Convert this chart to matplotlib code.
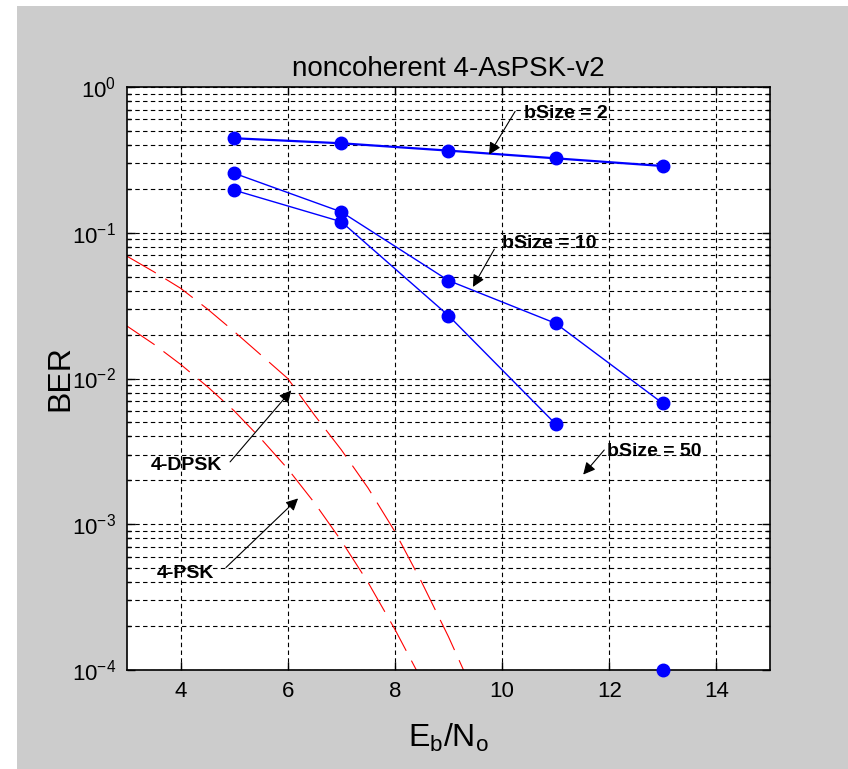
import numpy as np
import matplotlib
matplotlib.use('Agg')
import matplotlib.pyplot as plt
from matplotlib.patches import Rectangle
from matplotlib.ticker import LogLocator, NullFormatter, FuncFormatter

plt.rcParams['font.family'] = ['Liberation Sans', 'DejaVu Sans']
plt.rcParams['mathtext.fontset'] = 'custom'
plt.rcParams['mathtext.rm'] = 'Liberation Sans'

# simulated points
ebno = [5, 7, 9, 11, 13]
ber_b2 = [0.445, 0.411, 0.366, 0.324, 0.287]
ber_b10 = [0.256, 0.139, 0.047, 0.0239, 0.00675]
ebno_b50 = [5, 7, 9, 11]
ber_b50 = [0.196, 0.119, 0.027, 0.00487]
ebno_b50_last = [13]
ber_b50_last = [1e-4]

# theory curves
ebno_psk = [3, 3.5, 4, 4.5, 5, 5.5, 6, 6.5, 7, 7.5, 8, 8.4, 8.6]
ber_psk = [0.0229, 0.0172, 0.0125, 0.0088, 0.0060, 0.00386, 0.0024, 0.0014,
           0.00077, 0.000398, 0.00019, 0.0001, 7.0e-5]
ebno_dpsk = [3, 3.5, 4, 4.5, 5, 5.5, 6, 6.5, 7, 7.5, 8, 8.5, 9, 9.28, 9.45]
ber_dpsk = [0.069, 0.054, 0.0416, 0.030, 0.021, 0.0145, 0.0100, 0.0056,
            0.00324, 0.00177, 0.00089, 0.00040, 0.000169, 0.0001, 7.0e-5]

fig = plt.figure(figsize=(8.48, 7.69), dpi=100, facecolor='white')
fig.patches.append(Rectangle((17 / 848, 0), 1, 1 - 6 / 769, transform=fig.transFigure,
                             facecolor='#cccccc', edgecolor='none', zorder=-10))
ax = fig.add_axes([127 / 848, 99 / 769, 643 / 848, 583 / 769])
ax.set_facecolor('white')

red_dash = (0, (30, 10))
ax.plot(ebno_dpsk, ber_dpsk, color='red', lw=0.8, linestyle=red_dash)
ax.plot(ebno_psk, ber_psk, color='red', lw=0.8, linestyle=red_dash)

ax.plot(ebno, ber_b2, '-o', color='blue', lw=1.6, markersize=9)
ax.plot(ebno, ber_b10, '-o', color='blue', lw=1.0, markersize=9)
ax.plot(ebno_b50, ber_b50, '-o', color='blue', lw=1.0, markersize=9)
ax.plot(ebno_b50_last, ber_b50_last, 'o', color='blue', markersize=9, clip_on=False, zorder=5)

ax.set_yscale('log')
ax.set_xlim(3, 15)
ax.set_ylim(1e-4, 1)
ax.set_xticks([4, 6, 8, 10, 12, 14])
ax.yaxis.set_major_locator(LogLocator(base=10, numticks=10))
ax.yaxis.set_major_formatter(FuncFormatter(lambda v, p: r'$\mathregular{10^{%d}}$' % round(np.log10(v))))
ax.yaxis.set_minor_locator(LogLocator(base=10, subs=np.arange(2, 10), numticks=10))
ax.yaxis.set_minor_formatter(NullFormatter())

grid_style = dict(color='black', linestyle=(0, (4, 3)), linewidth=0.8)
ax.grid(True, which='major', axis='both', **grid_style)
ax.grid(True, which='minor', axis='y', **grid_style)

ax.tick_params(which='both', direction='in', top=True, right=True, width=1.0, color='black')
ax.tick_params(which='major', length=6, labelsize=16, pad=8)
ax.tick_params(which='minor', length=3)
for s in ax.spines.values():
    s.set_linewidth(1.2)

ax.set_title('noncoherent 4-AsPSK-v2', fontsize=20, pad=8)
ax.set_ylabel('BER', fontsize=23, va='center')
ax.yaxis.set_label_coords(-0.103, 0.5)
ax.set_xlabel(r'E$_\mathregular{b}$/N$_\mathregular{o}$', fontsize=23, labelpad=14)

arrow = dict(arrowstyle='-|>', color='black', lw=0.8, mutation_scale=18)
note_font = dict(fontsize=14, fontweight='bold', va='center', ha='left')
ax.annotate('', xy=(9.73, 0.331), xytext=(10.27, 0.706), arrowprops=arrow)
ax.text(10.40, 0.663, 'bSize = 2', **note_font)
ax.annotate('', xy=(9.43, 0.0409), xytext=(9.88, 0.080), arrowprops=arrow)
ax.text(10.0, 0.0844, 'bSize = 10', **note_font)
ax.annotate('', xy=(11.48, 0.00212), xytext=(11.94, 0.00334), arrowprops=arrow)
ax.text(11.95, 0.00316, 'bSize = 50', **note_font)
ax.annotate('', xy=(6.10, 0.00857), xytext=(4.89, 0.00259), arrowprops=arrow)
ax.text(3.45, 0.00251, '4-DPSK', **note_font)
ax.annotate('', xy=(6.23, 0.00155), xytext=(4.81, 0.00049), arrowprops=arrow)
ax.text(3.56, 0.000456, '4-PSK', **note_font)

fig.savefig('out.png', dpi=100, facecolor=fig.get_facecolor())
